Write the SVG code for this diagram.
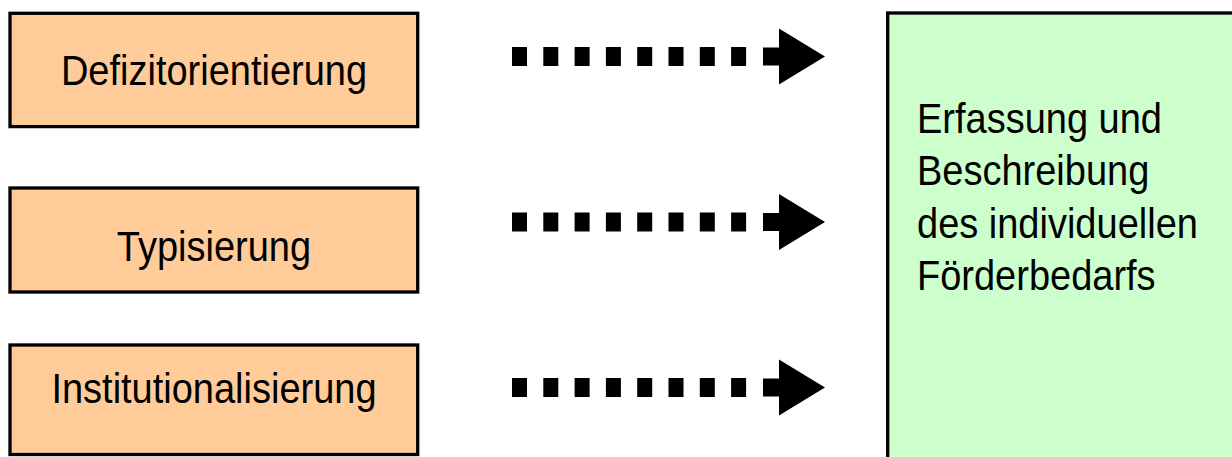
<svg xmlns="http://www.w3.org/2000/svg" xmlns:xlink="http://www.w3.org/1999/xlink" width="1232" height="457" viewBox="0 0 1232 457">
<style>
  .src { fill: #FFCC99; stroke: #000; stroke-width: 3.3; }
  .tgt { fill: #CCFFCC; stroke: #000; stroke-width: 3.3; }
  .lbl { font-family: "Liberation Sans", Arial, sans-serif; font-size: 38px; fill: #000; }
  .mid { text-anchor: middle; }
</style>
<defs>
  <g id="dotArrow">
    <rect x="512" y="-9.5" width="15" height="19"/>
    <rect x="543.3" y="-9.5" width="15" height="19"/>
    <rect x="574.6" y="-9.5" width="15" height="19"/>
    <rect x="605.9" y="-9.5" width="15" height="19"/>
    <rect x="637.2" y="-9.5" width="15" height="19"/>
    <rect x="668.5" y="-9.5" width="15" height="19"/>
    <rect x="699.8" y="-9.5" width="15" height="19"/>
    <rect x="731.1" y="-9.5" width="15" height="19"/>
    <rect x="763" y="-9" width="17" height="18"/>
    <polygon points="779,-28 825,0 779,28"/>
  </g>
</defs>
<rect width="1232" height="457" fill="#fff"/>
<g id="connectors" fill="#000">
  <use xlink:href="#dotArrow" transform="translate(0,56.5)"/>
  <use xlink:href="#dotArrow" transform="translate(0,222)"/>
  <use xlink:href="#dotArrow" transform="translate(0,387.5)"/>
</g>
<g id="node-defizit">
  <rect class="src" x="10" y="13.3" width="407.7" height="113.3"/>
  <text class="lbl mid" transform="translate(214,85) scale(1,1.14)">Defizitorientierung</text>
</g>
<g id="node-typisierung">
  <rect class="src" x="10" y="188" width="407.7" height="104"/>
  <text class="lbl mid" transform="translate(214,260.7) scale(1,1.14)">Typisierung</text>
</g>
<g id="node-institutionalisierung">
  <rect class="src" x="10" y="345" width="407.7" height="109.5"/>
  <text class="lbl mid" transform="translate(214,403.3) scale(1,1.14)">Institutionalisierung</text>
</g>
<g id="node-erfassung">
  <rect class="tgt" x="887.7" y="13" width="400" height="500"/>
  <text class="lbl" transform="translate(917,132.5) scale(1,1.14)">Erfassung und</text>
  <text class="lbl" transform="translate(917,185) scale(1,1.14)">Beschreibung</text>
  <text class="lbl" transform="translate(917,237.5) scale(1,1.14)">des individuellen</text>
  <text class="lbl" transform="translate(917,290) scale(1,1.14)">Förderbedarfs</text>
</g>
</svg>
